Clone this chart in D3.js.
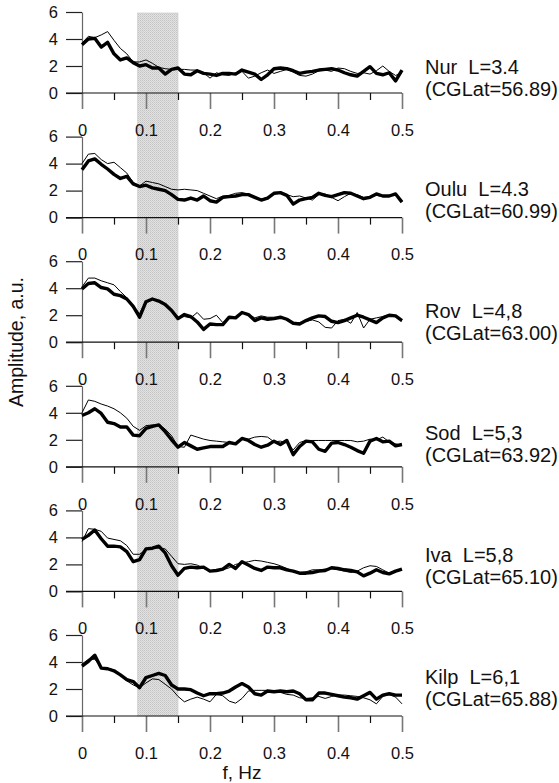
<!DOCTYPE html>
<html>
<head>
<meta charset="utf-8">
<script src="https://cdn.jsdelivr.net/npm/d3@7"></script>
<style>
  body { margin: 0; background: #fff; }
  svg, svg text { font-family: "Liberation Sans", Arial, sans-serif; }
  svg { display: block; }
</style>
</head>
<body>
<div id="chart"></div>
<script>
// frequency grid, Hz
const freq = [0,0.01,0.02,0.03,0.04,0.05,0.06,0.07,0.08,0.09,0.1,0.11,0.12,0.13,0.14,0.15,0.16,0.17,0.18,0.19,0.2,
  0.21,0.22,0.23,0.24,0.25,0.26,0.27,0.28,0.29,0.3,0.31,0.32,0.33,0.34,0.35,0.36,0.37,0.38,0.39,0.4,
  0.41,0.42,0.43,0.44,0.45,0.46,0.47,0.48,0.49,0.5];

const stations = ["Nur  L=3.4", "Oulu  L=4.3", "Rov  L=4,8", "Sod  L=5,3", "Iva  L=5,8", "Kilp  L=6,1"];
const cglat = ["(CGLat=56.89)", "(CGLat=60.99)", "(CGLat=63.00)", "(CGLat=63.92)", "(CGLat=65.10)", "(CGLat=65.88)"];

const band = [0.087, 0.15];
const xTicks = [0, 0.1, 0.2, 0.3, 0.4, 0.5];
const xMinor = [0.05, 0.15, 0.25, 0.35, 0.45];
const yTicks = [0, 2, 4, 6];

const nurThick = [3.58,4.0,4.05,3.4,3.75,2.9,2.45,2.6,2.25,2.0,2.1,1.85,1.85,1.4,1.75,1.85,1.4,1.35,1.65,1.45,1.4,1.3,1.45,1.45,1.4,1.7,1.55,1.4,1.0,1.35,1.8,
  1.85,1.8,1.65,1.45,1.55,1.6,1.7,1.75,1.8,1.7,1.5,1.35,1.25,1.6,1.95,1.45,1.35,1.5,0.9,1.7];
const nurThin = [3.7,4.2,4.1,4.3,4.55,3.9,3.3,2.9,2.3,2.3,2.45,2.2,1.9,1.8,1.75,1.75,1.75,1.7,1.7,1.5,1.1,1.5,1.35,1.3,1.5,1.6,1.1,1.25,1.5,1.7,1.45,
  1.6,1.75,1.55,1.3,1.25,1.4,1.65,1.7,1.6,1.85,1.8,1.6,1.45,1.5,1.4,1.65,2.0,1.6,1.3,1.5];

const ouluThick = [3.55,4.2,4.35,3.95,3.6,3.2,2.9,3.05,2.5,2.3,2.4,2.2,2.1,2.0,1.7,1.35,1.3,1.45,1.3,1.6,1.25,1.15,1.5,1.55,1.6,1.7,1.7,1.5,1.3,1.45,1.8,
  1.85,1.65,1.0,1.3,1.4,1.5,1.8,1.65,1.55,1.7,1.85,1.8,1.6,1.4,1.5,1.75,1.6,1.6,1.75,1.15];
const ouluThin = [4.0,4.7,4.75,4.3,4.0,4.1,3.7,3.3,2.6,2.35,2.7,2.6,2.5,2.3,2.1,2.05,2.1,2.05,2.0,1.8,1.6,1.4,1.6,1.65,1.8,1.85,1.75,1.5,1.35,1.5,1.75,
  1.8,1.7,1.55,1.6,1.45,1.3,1.7,1.75,1.5,1.25,1.55,1.8,1.7,1.5,1.55,1.65,1.55,1.65,1.7,1.2];

const rovThick = [3.95,4.35,4.4,4.05,3.95,3.55,3.45,3.2,2.65,1.85,3.0,3.2,3.05,2.8,2.35,1.75,2.05,1.9,1.5,0.95,1.35,1.3,1.3,1.85,1.8,2.2,2.05,1.6,1.8,1.7,1.75,
  1.85,1.7,1.4,1.35,1.6,1.8,1.95,1.9,1.55,1.45,1.6,1.8,2.0,1.85,1.65,1.45,1.8,2.0,1.95,1.6];
const rovThin = [4.1,4.75,4.75,4.55,4.4,4.25,3.75,3.3,2.7,2.1,3.05,3.2,3.05,2.8,2.4,1.85,1.9,1.8,2.2,1.7,1.75,2.0,1.45,1.8,1.85,2.2,2.05,1.8,1.95,1.85,1.85,
  1.85,1.75,1.4,1.45,1.55,1.65,1.5,1.1,1.05,1.6,1.7,1.4,2.2,1.05,1.7,1.8,1.9,2.05,1.9,1.55];

const sodThick = [3.8,4.0,4.3,3.95,3.3,3.2,2.95,2.95,2.35,2.3,2.85,3.0,3.1,2.6,2.0,1.45,1.8,1.55,1.3,1.4,1.5,1.5,1.5,1.8,1.7,2.1,1.95,1.65,1.45,1.6,1.9,
  1.65,1.95,0.9,1.5,1.9,1.85,1.3,1.15,1.75,1.8,1.65,1.45,1.2,1.0,1.9,2.1,1.85,1.9,1.55,1.65];
const sodThin = [4.0,4.95,4.85,4.65,4.5,4.3,4.0,3.6,3.0,2.7,3.05,3.1,3.1,2.8,2.3,1.5,1.45,2.35,2.2,2.05,1.95,1.9,1.85,1.8,1.75,2.1,2.05,2.2,2.25,2.2,1.85,
  1.9,1.8,1.25,1.8,1.95,1.95,1.95,1.95,1.95,1.95,1.95,1.95,1.85,1.9,2.05,2.0,2.2,1.85,1.7,1.6];

const ivaThick = [3.85,4.15,4.55,3.9,3.35,3.35,3.3,2.95,2.2,2.35,3.15,3.2,3.35,2.85,1.9,1.2,1.7,1.8,1.75,1.8,1.5,1.55,1.65,2.0,1.7,2.2,1.95,1.7,1.55,1.8,1.75,
  1.75,1.6,1.5,1.35,1.35,1.4,1.5,1.55,1.75,1.7,1.6,1.55,1.45,1.15,1.35,1.6,1.4,1.3,1.5,1.65];
const ivaThin = [3.7,4.65,4.6,4.45,3.95,3.85,3.75,3.4,2.75,2.75,3.1,3.2,3.2,3.15,2.6,2.05,2.0,2.05,1.95,1.7,1.55,1.5,1.6,1.75,2.0,2.1,2.2,2.3,2.25,2.15,2.05,
  1.9,1.7,1.5,1.4,1.45,1.6,1.6,1.65,1.7,1.6,1.5,1.4,1.5,1.75,1.9,1.85,1.6,1.35,1.45,1.6];

const kilpThick = [3.7,4.05,4.5,3.55,3.5,3.35,3.05,2.7,2.55,2.1,2.85,3.0,3.15,3.0,2.3,2.0,2.0,1.95,1.7,1.5,1.65,1.65,1.7,1.85,2.15,2.4,2.15,1.65,1.55,1.85,1.8,
  1.85,1.8,1.85,1.65,1.2,1.2,1.7,1.7,1.6,1.5,1.4,1.35,1.25,1.5,1.75,1.25,1.55,1.65,1.55,1.55];
const kilpThin = [3.85,4.2,4.2,3.6,3.55,3.4,3.0,2.6,2.3,2.1,2.45,2.75,2.7,2.35,2.0,1.45,1.05,1.25,1.4,1.25,1.05,1.6,1.5,1.1,0.95,1.3,1.85,1.9,1.9,1.9,1.8,
  1.75,1.6,1.55,1.35,1.3,1.35,1.45,1.3,1.45,1.55,1.55,1.5,1.45,1.35,1.2,0.9,1.45,1.6,1.4,0.9];

const thickSeries = [nurThick, ouluThick, rovThick, sodThick, ivaThick, kilpThick];
const thinSeries = [nurThin, ouluThin, rovThin, sodThin, ivaThin, kilpThin];

// layout
const W = 559, H = 783;
const firstTop = 12, panelH = 81, panelStep = 124.6;
const tickLen = 16, minorLen = 7;
const FONT = '"Liberation Sans", Arial, sans-serif';

const svg = d3.select("#chart").append("svg")
  .attr("width", W)
  .attr("height", H);

const defs = svg.append("defs");
const pat = defs.append("pattern")
  .attr("id", "stipple")
  .attr("patternUnits", "userSpaceOnUse")
  .attr("width", 2).attr("height", 2);
pat.append("rect").attr("width", 2).attr("height", 2).attr("fill", "#e2e2e2");
pat.append("rect").attr("width", 1).attr("height", 1).attr("fill", "#c4c4c4");
pat.append("rect").attr("x", 1).attr("y", 1).attr("width", 1).attr("height", 1).attr("fill", "#cfcfcf");

const x = d3.scaleLinear().domain([0, 0.5]).range([82, 402]);

function yScale(i) {
  const top = firstTop + i * panelStep;
  return d3.scaleLinear().domain([0, 6]).range([top + panelH, top]);
}

// shaded band across all panels
const yTop = yScale(0), yBot = yScale(stations.length - 1);
svg.append("rect")
  .attr("x", x(band[0]))
  .attr("y", yTop(6) + 1)
  .attr("width", x(band[1]) - x(band[0]))
  .attr("height", yBot(0) - yTop(6) - 1)
  .attr("fill", "url(#stipple)")
  .attr("stroke", "#c8c8c8")
  .attr("stroke-width", 0.6);

stations.forEach((name, i) => {
  const y = yScale(i);
  const g = svg.append("g").attr("class", "panel");

  // y axis
  const ya = g.append("g")
    .attr("transform", `translate(${x(0)},0)`)
    .call(d3.axisLeft(y).tickValues(yTicks).tickSize(tickLen).tickPadding(8)
      .tickSizeOuter(0).tickFormat(d3.format("d")));
  ya.attr("font-family", null).attr("font-size", null);
  ya.select(".domain").attr("stroke", "#666").attr("stroke-width", 1.2);
  ya.selectAll(".tick line").attr("stroke", "#222").attr("stroke-width", 1.2);
  ya.selectAll(".tick text").attr("fill", "#111")
    .style("font-size", "16.5px").style("font-family", FONT);

  // x axis: major ticks with labels
  const xa = g.append("g")
    .attr("transform", `translate(0,${y(0)})`)
    .call(d3.axisBottom(x).tickValues(xTicks).tickSize(tickLen).tickPadding(15)
      .tickFormat(d => d === 0 ? "0" : d3.format(".1f")(d)));
  xa.attr("font-family", null).attr("font-size", null);
  xa.select(".domain").remove();
  xa.selectAll(".tick line").attr("stroke", "#777").attr("stroke-width", 1.6);
  xa.selectAll(".tick text").attr("fill", "#111")
    .style("font-size", "16.5px").style("font-family", FONT);

  // minor ticks
  const xm = g.append("g")
    .attr("transform", `translate(0,${y(0)})`)
    .call(d3.axisBottom(x).tickValues(xMinor).tickSize(minorLen).tickFormat(""));
  xm.select(".domain").remove();
  xm.selectAll(".tick line").attr("stroke", "#111").attr("stroke-width", 1.2);

  // baseline
  g.append("line")
    .attr("x1", x(0) - tickLen).attr("x2", x(0.5))
    .attr("y1", y(0)).attr("y2", y(0))
    .attr("stroke", "#111").attr("stroke-width", 1.2);

  const line = d3.line()
    .x((d, k) => x(freq[k]))
    .y(d => y(d));

  g.append("path")
    .datum(thinSeries[i])
    .attr("d", line)
    .attr("fill", "none")
    .attr("stroke", "#000")
    .attr("stroke-width", 1)
    .attr("stroke-linejoin", "round");

  g.append("path")
    .datum(thickSeries[i])
    .attr("d", line)
    .attr("fill", "none")
    .attr("stroke", "#000")
    .attr("stroke-width", 3.4)
    .attr("stroke-linejoin", "round");

  // station label
  const ly = y(0) - 19 - 2.6 * i;
  g.append("text")
    .attr("x", 425).attr("y", ly)
    .style("font-size", "20px")
    .attr("fill", "#111")
    .style("white-space", "pre")
    .text(name);
  g.append("text")
    .attr("x", 425).attr("y", ly + 22)
    .style("font-size", "20px")
    .attr("fill", "#111")
    .text(cglat[i]);
});

// axis titles
svg.append("text")
  .attr("transform", `translate(23,342) rotate(-90)`)
  .attr("text-anchor", "middle")
  .style("font-size", "19.5px")
  .attr("fill", "#111")
  .text("Amplitude, a.u.");

svg.append("text")
  .attr("x", 242).attr("y", 779)
  .attr("text-anchor", "middle")
  .style("font-size", "19px")
  .attr("fill", "#111")
  .text("f, Hz");
</script>
</body>
</html>
